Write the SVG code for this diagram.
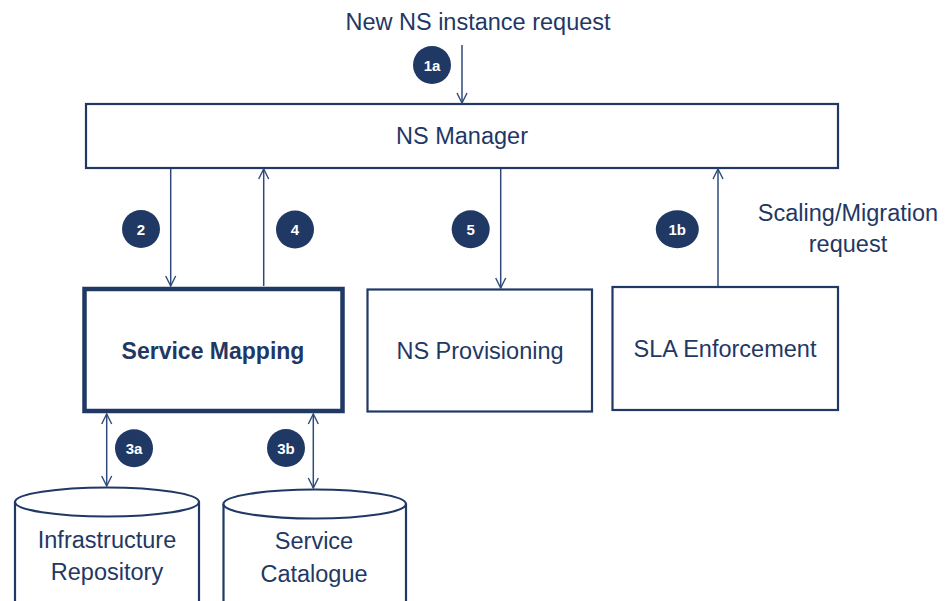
<svg xmlns="http://www.w3.org/2000/svg" width="950" height="601" viewBox="0 0 950 601">
<style>
text{font-family:"Liberation Sans","Open Sans",sans-serif;fill:#1F3864;text-anchor:middle}
.lbl{font-size:23.5px}
.bold{font-size:23px;font-weight:bold}
.box{fill:#fff;stroke:#1F3864;stroke-width:2.2}
.thick{fill:#fff;stroke:#1F3864;stroke-width:4.5}
.conn{stroke:#2F4A7A;stroke-width:1.5;fill:none}
.badge{fill:#1F3864}
.badge-t{fill:#fff;font-size:15px;font-weight:bold}
</style>
<defs>
<marker id="arr" viewBox="0 0 12 12" refX="11" refY="6" markerWidth="12" markerHeight="12" markerUnits="userSpaceOnUse" orient="auto-start-reverse">
<path d="M1,1 L11,6 L1,11" fill="none" stroke="#2F4A7A" stroke-width="1.4"/>
</marker>
</defs>
<text class="lbl" x="478" y="30">New NS instance request</text>
<g id="ns-manager">
<rect class="box" x="86" y="104" width="752" height="64"/>
<text class="lbl" x="462" y="144">NS Manager</text>
</g>
<g id="service-mapping">
<rect class="thick" x="84.5" y="289" width="258" height="122"/>
<text class="bold" x="213" y="359">Service Mapping</text>
</g>
<g id="ns-provisioning">
<rect class="box" x="367.5" y="289.5" width="224.5" height="122"/>
<text class="lbl" x="480" y="359">NS Provisioning</text>
</g>
<g id="sla-enforcement">
<rect class="box" x="612.5" y="287" width="225.5" height="123"/>
<text class="lbl" x="725" y="357">SLA Enforcement</text>
</g>
<g id="infrastructure-repository">
<path class="box" d="M15,502 L15,610 L199,610 L199,502"/>
<ellipse class="box" cx="107" cy="502" rx="92" ry="14.5"/>
<text class="lbl" x="107" y="548">Infrastructure</text>
<text class="lbl" x="107" y="580">Repository</text>
</g>
<g id="service-catalogue">
<path class="box" d="M223.5,504 L223.5,610 L406,610 L406,504"/>
<ellipse class="box" cx="314.7" cy="504" rx="91.3" ry="14.5"/>
<text class="lbl" x="314" y="549">Service</text>
<text class="lbl" x="314" y="582">Catalogue</text>
</g>
<g id="connectors">
<line class="conn" x1="462" y1="45" x2="462" y2="103" marker-end="url(#arr)"/>
<line class="conn" x1="170.7" y1="169" x2="170.7" y2="286" marker-end="url(#arr)"/>
<line class="conn" x1="263.7" y1="286" x2="263.7" y2="169" marker-end="url(#arr)"/>
<line class="conn" x1="500.7" y1="169" x2="500.7" y2="288" marker-end="url(#arr)"/>
<line class="conn" x1="718" y1="286" x2="718" y2="169" marker-end="url(#arr)"/>
<line class="conn" x1="106.7" y1="414" x2="106.7" y2="486" marker-start="url(#arr)" marker-end="url(#arr)"/>
<line class="conn" x1="313.3" y1="414" x2="313.3" y2="488" marker-start="url(#arr)" marker-end="url(#arr)"/>
<text class="lbl" x="848" y="221">Scaling/Migration</text>
<text class="lbl" x="848" y="252">request</text>
</g>
<g id="badges">
<circle class="badge" cx="432" cy="65" r="19"/><text class="badge-t" x="432" y="70.5">1a</text>
<circle class="badge" cx="141" cy="229" r="19"/><text class="badge-t" x="141" y="234.5">2</text>
<circle class="badge" cx="295" cy="229.5" r="19"/><text class="badge-t" x="295" y="235">4</text>
<circle class="badge" cx="470.7" cy="229.3" r="19"/><text class="badge-t" x="470.7" y="234.8">5</text>
<ellipse class="badge" cx="677.3" cy="229.3" rx="21.5" ry="19"/><text class="badge-t" x="677.3" y="234.8">1b</text>
<circle class="badge" cx="134" cy="448.3" r="19"/><text class="badge-t" x="134" y="453.8">3a</text>
<circle class="badge" cx="286" cy="448" r="19"/><text class="badge-t" x="286" y="453.5">3b</text>
</g>
</svg>
